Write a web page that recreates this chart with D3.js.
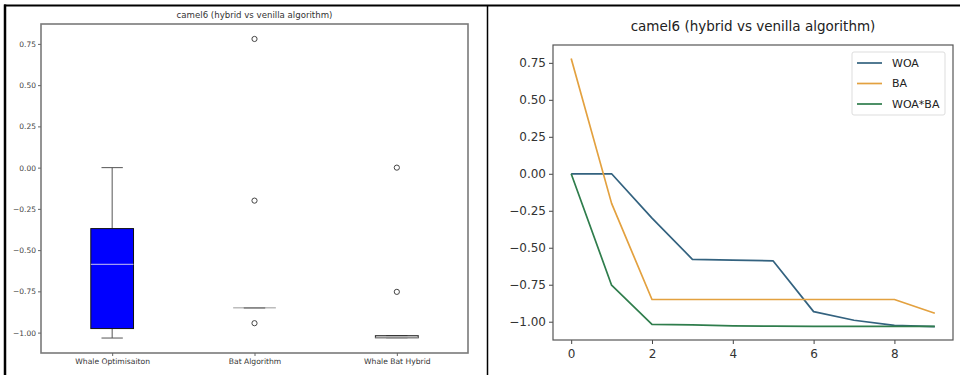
<!DOCTYPE html>
<html>
<head>
<meta charset="utf-8">
<script src="https://cdn.jsdelivr.net/npm/d3@7"></script>
<style>
  body { margin: 0; background: #fff; }
  svg { display: block; font-family: "DejaVu Sans", sans-serif; }
</style>
</head>
<body>
<svg id="chart"></svg>
<script>
const width = 960, height = 375;

// data
const title = "camel6 (hybrid vs venilla algorithm)";
const boxNames = ["Whale Optimisaiton", "Bat Algorithm", "Whale Bat Hybrid"];
const seriesNames = ["WOA", "BA", "WOA*BA"];
const iterations = [0, 1, 2, 3, 4, 5, 6, 7, 8, 9];
const woa = [0, 0, -0.3, -0.578, -0.583, -0.589, -0.932, -0.99, -1.025, -1.033];
const ba = [0.78, -0.2, -0.85, -0.85, -0.85, -0.85, -0.85, -0.85, -0.85, -0.943];
const hybrid = [0, -0.753, -1.018, -1.022, -1.028, -1.03, -1.031, -1.031, -1.031, -1.031];
const yTicks = [-1, -0.75, -0.5, -0.25, 0, 0.25, 0.5, 0.75];
const xTicks = [0, 2, 4, 6, 8];
const lineColors = ["#33627f", "#e3a13f", "#2f7d4c"];

const allSeries = [woa, ba, hybrid];

const svg = d3.select("#chart")
              .attr("width", width)
              .attr("height", height);

svg.append("rect").attr("width", width).attr("height", height).attr("fill", "#fff");

// y range with matplotlib-like 5% margins
const ext = d3.extent(allSeries.flat());
const pad = (ext[1] - ext[0]) * 0.05;
const yDomain = [ext[0] - pad, ext[1] + pad];
const fmt = d3.format(".2f");

// ---------- left panel: box plot ----------
const L = { left: 41, right: 468, top: 24, bottom: 353 };
const xL = d3.scaleLinear().domain([0.5, 3.5]).range([L.left, L.right]);
const yL = d3.scaleLinear().domain(yDomain).range([L.bottom, L.top]);

const left = svg.append("g");

left.append("rect")
    .attr("x", L.left).attr("y", L.top)
    .attr("width", L.right - L.left).attr("height", L.bottom - L.top)
    .attr("fill", "none").attr("stroke", "#7a7a7a").attr("stroke-width", 1.6);

const yAxisL = left.append("g")
    .attr("transform", `translate(${L.left},0)`)
    .call(d3.axisLeft(yL).tickValues(yTicks).tickFormat(fmt).tickSize(3).tickPadding(2));
yAxisL.select(".domain").remove();
yAxisL.selectAll("line").attr("stroke", "#666");
yAxisL.selectAll("text").attr("font-size", 7.5).attr("fill", "#444")
      .attr("font-family", "DejaVu Sans, sans-serif");

const xAxisL = left.append("g")
    .attr("transform", `translate(0,${L.bottom})`)
    .call(d3.axisBottom(xL).tickValues([1, 2, 3]).tickFormat((d, i) => boxNames[i]).tickSize(3).tickPadding(3));
xAxisL.select(".domain").remove();
xAxisL.selectAll("line").attr("stroke", "#666");
xAxisL.selectAll("text").attr("font-size", 7.6).attr("fill", "#333")
      .attr("font-family", "DejaVu Sans, sans-serif");

left.append("text")
    .attr("x", (L.left + L.right) / 2).attr("y", 18)
    .attr("text-anchor", "middle").attr("font-size", 8.6).attr("fill", "#333")
    .text(title);

const boxW = 0.3, capW = 0.15;

allSeries.forEach((vals, i) => {
  const s = vals.slice().sort(d3.ascending);
  const q1 = d3.quantileSorted(s, 0.25);
  const med = d3.quantileSorted(s, 0.5);
  const q3 = d3.quantileSorted(s, 0.75);
  const iqr = q3 - q1;
  const lo = d3.min(s.filter(v => v >= q1 - 1.5 * iqr));
  const hi = d3.max(s.filter(v => v <= q3 + 1.5 * iqr));
  const fliers = s.filter(v => v < lo || v > hi);
  const cx = i + 1;
  const g = left.append("g");

  // whiskers and caps
  [[q1, lo], [q3, hi]].forEach(([a, b]) => {
    g.append("line")
     .attr("x1", xL(cx)).attr("x2", xL(cx))
     .attr("y1", yL(a)).attr("y2", yL(b))
     .attr("stroke", "#555").attr("stroke-width", 1);
    g.append("line")
     .attr("x1", xL(cx - capW / 2)).attr("x2", xL(cx + capW / 2))
     .attr("y1", yL(b)).attr("y2", yL(b))
     .attr("stroke", "#555").attr("stroke-width", 1);
  });

  g.append("rect")
   .attr("x", xL(cx - boxW / 2)).attr("y", yL(q3))
   .attr("width", xL(cx + boxW / 2) - xL(cx - boxW / 2))
   .attr("height", Math.max(0, yL(q1) - yL(q3)))
   .attr("fill", i === 0 ? "#0000ff" : "none")
   .attr("stroke", i === 0 ? "#111" : "#333").attr("stroke-width", i === 0 ? 1 : 1.2);

  g.append("line")
   .attr("x1", xL(cx - boxW / 2)).attr("x2", xL(cx + boxW / 2))
   .attr("y1", yL(med)).attr("y2", yL(med))
   .attr("stroke", i === 0 ? "#c9c3f0" : "#999").attr("stroke-width", 1);

  g.selectAll("circle")
   .data(fliers)
   .enter()
   .append("circle")
   .attr("cx", xL(cx)).attr("cy", d => yL(d)).attr("r", 2.6)
   .attr("fill", "none").attr("stroke", "#444").attr("stroke-width", 1);
});

// ---------- right panel: convergence lines ----------
const R = { left: 553, right: 953, top: 45, bottom: 340 };
const xR = d3.scaleLinear().domain([-0.45, 9.45]).range([R.left, R.right]);
const yR = d3.scaleLinear().domain(yDomain).range([R.bottom, R.top]);

const right = svg.append("g");

const yAxisR = right.append("g")
    .attr("transform", `translate(${R.left},0)`)
    .call(d3.axisLeft(yR).tickValues(yTicks).tickFormat(fmt).tickSize(4).tickPadding(3));
yAxisR.select(".domain").remove();
yAxisR.selectAll("line").attr("stroke", "#444");
yAxisR.selectAll("text").attr("font-size", 12).attr("fill", "#333")
      .attr("font-family", "DejaVu Sans, sans-serif");

const xAxisR = right.append("g")
    .attr("transform", `translate(0,${R.bottom})`)
    .call(d3.axisBottom(xR).tickValues(xTicks).tickFormat(d3.format("d")).tickSize(4).tickPadding(5));
xAxisR.select(".domain").remove();
xAxisR.selectAll("line").attr("stroke", "#444");
xAxisR.selectAll("text").attr("font-size", 12).attr("fill", "#333")
      .attr("font-family", "DejaVu Sans, sans-serif");

const line = d3.line()
               .x((d, i) => xR(iterations[i]))
               .y(d => yR(d));

allSeries.forEach((vals, i) => {
  right.append("path")
       .datum(vals)
       .attr("d", line)
       .attr("fill", "none")
       .attr("stroke", lineColors[i])
       .attr("stroke-width", 1.7)
       .attr("stroke-linejoin", "round");
});

right.append("rect")
     .attr("x", R.left).attr("y", R.top)
     .attr("width", R.right - R.left).attr("height", R.bottom - R.top)
     .attr("fill", "none").attr("stroke", "#555").attr("stroke-width", 1.2);

right.append("text")
     .attr("x", (R.left + R.right) / 2).attr("y", 31)
     .attr("text-anchor", "middle").attr("font-size", 13.5).attr("fill", "#222")
     .text(title);

// legend
const legend = right.append("g").attr("transform", "translate(852,52)");
legend.append("rect")
      .attr("width", 93).attr("height", 63).attr("rx", 2)
      .attr("fill", "#fff").attr("fill-opacity", 0.85)
      .attr("stroke", "#ddd").attr("stroke-width", 1);

const item = legend.selectAll(".legend")
                   .data(seriesNames)
                   .enter()
                   .append("g")
                   .attr("class", "legend")
                   .attr("transform", (d, i) => `translate(0,${11 + i * 20.5})`);
item.append("line")
    .attr("x1", 5).attr("x2", 30)
    .attr("stroke", (d, i) => lineColors[i]).attr("stroke-width", 1.7);
item.append("text")
    .attr("x", 40).attr("dy", "0.35em")
    .attr("font-size", 11).attr("fill", "#222")
    .text(d => d);

// ---------- frame of the composite ----------
svg.append("line").attr("x1", 4).attr("x2", width).attr("y1", 5.5).attr("y2", 5.5)
   .attr("stroke", "#000").attr("stroke-width", 2);
svg.append("line").attr("x1", 5).attr("x2", 5).attr("y1", 4.5).attr("y2", height)
   .attr("stroke", "#000").attr("stroke-width", 2.5);
svg.append("line").attr("x1", 487.5).attr("x2", 487.5).attr("y1", 5).attr("y2", height)
   .attr("stroke", "#000").attr("stroke-width", 1.5);
</script>
</body>
</html>
